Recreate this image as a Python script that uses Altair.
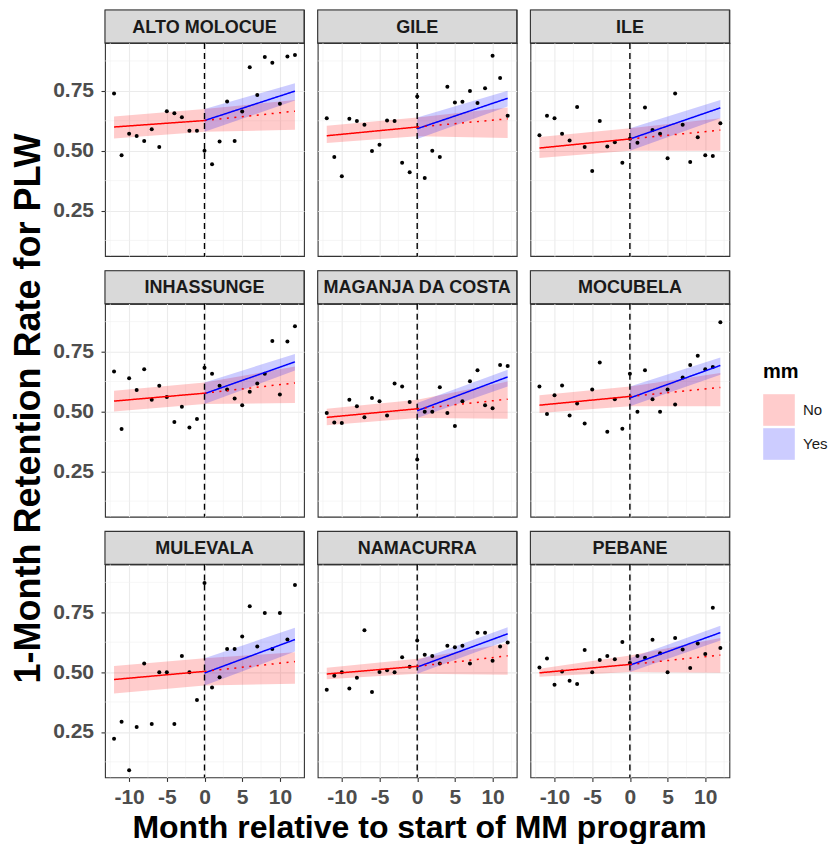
import altair as alt
import pandas as pd

SITES = ["ALTO MOLOCUE", "GILE", "ILE", "INHASSUNGE", "MAGANJA DA COSTA",
         "MOCUBELA", "MULEVALA", "NAMACURRA", "PEBANE"]
MONTHS = list(range(-12, 13))

ALTO_MOLOCUE = [0.739, 0.481, 0.571, 0.561, 0.540, 0.590, 0.515, 0.665, 0.656, 0.640, 0.583, 0.583, 0.500,
                0.443, 0.538, 0.706, 0.540, 0.664, 0.849, 0.733, 0.892, 0.867, 0.696, 0.894, 0.900]
GILE = [0.636, 0.474, 0.393, 0.633, 0.624, 0.608, 0.499, 0.525, 0.626, 0.624, 0.450, 0.410, 0.726,
        0.386, 0.500, 0.474, 0.767, 0.701, 0.704, 0.749, 0.699, 0.761, 0.897, 0.804, 0.646]
ILE = [0.565, 0.646, 0.636, 0.571, 0.543, 0.683, 0.515, 0.415, 0.624, 0.518, 0.535, 0.450, 0.550,
       0.533, 0.681, 0.586, 0.571, 0.468, 0.739, 0.608, 0.453, 0.556, 0.481, 0.478, 0.615]
INHASSUNGE = [0.667, 0.426, 0.639, 0.589, 0.676, 0.549, 0.607, 0.560, 0.456, 0.519, 0.433, 0.468, 0.682,
              0.657, 0.607, 0.592, 0.554, 0.526, 0.582, 0.617, 0.657, 0.794, 0.571, 0.792, 0.856]
MAGANJA_DA_COSTA = [0.493, 0.454, 0.451, 0.549, 0.521, 0.476, 0.556, 0.542, 0.483, 0.617, 0.604, 0.539, 0.299,
                    0.499, 0.499, 0.601, 0.493, 0.439, 0.542, 0.626, 0.672, 0.526, 0.513, 0.694, 0.690]
MOCUBELA = [0.604, 0.489, 0.567, 0.608, 0.483, 0.533, 0.449, 0.592, 0.704, 0.415, 0.551, 0.428, 0.657,
            0.499, 0.672, 0.551, 0.499, 0.592, 0.529, 0.642, 0.694, 0.732, 0.676, 0.685, 0.872]
MULEVALA = [0.221, 0.293, 0.090, 0.271, 0.536, 0.283, 0.499, 0.499, 0.283, 0.567, 0.499, 0.383, 0.872,
            0.436, 0.478, 0.597, 0.597, 0.649, 0.775, 0.607, 0.747, 0.597, 0.747, 0.636, 0.864]
NAMACURRA = [0.426, 0.485, 0.499, 0.431, 0.476, 0.675, 0.417, 0.500, 0.508, 0.499, 0.5625, 0.522, 0.632,
             0.572, 0.567, 0.536, 0.610, 0.604, 0.610, 0.536, 0.664, 0.664, 0.547, 0.607, 0.624]
PEBANE = [0.519, 0.557, 0.447, 0.503, 0.464, 0.450, 0.592, 0.499, 0.551, 0.567, 0.554, 0.626, 0.5375,
          0.567, 0.560, 0.635, 0.579, 0.499, 0.642, 0.594, 0.517, 0.619, 0.576, 0.769, 0.601]
SERIES = [ALTO_MOLOCUE, GILE, ILE, INHASSUNGE, MAGANJA_DA_COSTA, MOCUBELA, MULEVALA, NAMACURRA, PEBANE]

# fitted lines (site order as SITES)
PRE_START = [0.599, 0.5625, 0.511, 0.543, 0.475, 0.526, 0.469, 0.492, 0.497]
PRE_END = [0.626, 0.599, 0.549, 0.576, 0.511, 0.5625, 0.503, 0.524, 0.532]
POST_START = [0.626, 0.592, 0.549, 0.574, 0.503, 0.556, 0.496, 0.521, 0.529]
POST_END = [0.749, 0.719, 0.679, 0.707, 0.644, 0.692, 0.636, 0.660, 0.665]
CF_END = [0.665, 0.633, 0.586, 0.619, 0.551, 0.600, 0.544, 0.568, 0.571]

# confidence bands
RED_LO_START = [0.551, 0.532, 0.469, 0.500, 0.442, 0.493, 0.411, 0.470, 0.481]
RED_HI_START = [0.643, 0.604, 0.557, 0.586, 0.511, 0.567, 0.525, 0.518, 0.514]
RED_LO_MID = [0.579, 0.560, 0.500, 0.531, 0.472, 0.521, 0.444, 0.493, 0.500]
RED_HI_MID = [0.674, 0.639, 0.594, 0.621, 0.549, 0.604, 0.558, 0.556, 0.569]
RED_LO_END = [0.5875, 0.553, 0.500, 0.535, 0.469, 0.521, 0.451, 0.489, 0.497]
RED_HI_END = [0.712, 0.680, 0.636, 0.6875, 0.625, 0.660, 0.583, 0.621, 0.642]
BLUE_LO_MID = [0.579, 0.549, 0.500, 0.531, 0.472, 0.521, 0.444, 0.493, 0.500]
BLUE_HI_MID = [0.674, 0.639, 0.594, 0.621, 0.535, 0.604, 0.558, 0.549, 0.558]
BLUE_LO_END = [0.710, 0.685, 0.636, 0.671, 0.604, 0.653, 0.586, 0.632, 0.632]
BLUE_HI_END = [0.782, 0.751, 0.712, 0.740, 0.674, 0.725, 0.685, 0.6875, 0.694]

X_TICKS = [-10, -5, 0, 5, 10]
Y_TICKS = [0.25, 0.50, 0.75]
MINOR_X = [-12.5, -7.5, -2.5, 2.5, 7.5, 12.5]
MINOR_Y = [0.125, 0.375, 0.625, 0.875]
CUTOFF = [0]

XTITLE = "Month relative to start of MM program"
YTITLE = "1-Month Retention Rate for PLW"

# ---------------- tables ----------------
pts = []
for s, vals in zip(SITES, SERIES):
    for m, v in zip(MONTHS, vals):
        pts.append({"site": s, "x": m, "y": v})
pts = pd.DataFrame(pts)

lines = []
bands = []
for i, s in enumerate(SITES):
    lines += [
        {"site": s, "seg": "pre", "x": -12, "y": PRE_START[i]},
        {"site": s, "seg": "pre", "x": 0, "y": PRE_END[i]},
        {"site": s, "seg": "post", "x": 0, "y": POST_START[i]},
        {"site": s, "seg": "post", "x": 12, "y": POST_END[i]},
        {"site": s, "seg": "cf", "x": 0, "y": PRE_END[i]},
        {"site": s, "seg": "cf", "x": 12, "y": CF_END[i]},
    ]
    bands += [
        {"site": s, "mm": "No", "x": -12, "lo": RED_LO_START[i], "hi": RED_HI_START[i]},
        {"site": s, "mm": "No", "x": 0, "lo": RED_LO_MID[i], "hi": RED_HI_MID[i]},
        {"site": s, "mm": "No", "x": 12, "lo": RED_LO_END[i], "hi": RED_HI_END[i]},
        {"site": s, "mm": "Yes", "x": 0, "lo": BLUE_LO_MID[i], "hi": BLUE_HI_MID[i]},
        {"site": s, "mm": "Yes", "x": 12, "lo": BLUE_LO_END[i], "hi": BLUE_HI_END[i]},
    ]
lines = pd.DataFrame(lines)
bands = pd.DataFrame(bands)
minor_x = pd.DataFrame({"x": MINOR_X})
minor_y = pd.DataFrame({"y": MINOR_Y})
cut = pd.DataFrame({"x": CUTOFF})

W, H, SH = 199, 213, 33
FONT = "Liberation Sans"
XS = alt.Scale(domain=[-13.2, 13.2], nice=False, zero=False)
YS = alt.Scale(domain=[0.06, 0.95], nice=False, zero=False)


def axes(show_x, show_y):
    common = dict(title=None, domain=False, grid=True, gridColor="#ebebeb", gridWidth=1.1,
                  tickColor="#333333", tickWidth=1.1, tickSize=4,
                  labelFont=FONT, labelFontSize=21, labelFontWeight="bold", labelColor="#4d4d4d")
    ax = alt.Axis(values=X_TICKS, labels=show_x, ticks=show_x, labelExpr="datum.value + ''",
                  labelPadding=5, **common)
    ay = alt.Axis(values=Y_TICKS, labels=show_y, ticks=show_y, format=".2f",
                  labelPadding=7.5, **common)
    return ax, ay


def panel(name, show_x, show_y):
    ax, ay = axes(show_x, show_y)
    flt = alt.datum.site == name
    X = lambda f: alt.X(f"{f}:Q", scale=XS, axis=ax)
    Y = lambda f: alt.Y(f"{f}:Q", scale=YS, axis=ay)

    gx = alt.Chart(minor_x).mark_rule(color="#f0f0f0", strokeWidth=0.6).encode(x=X("x"))
    gy = alt.Chart(minor_y).mark_rule(color="#f0f0f0", strokeWidth=0.6).encode(y=Y("y"))
    band = alt.Chart(bands).transform_filter(flt).mark_area(opacity=0.2).encode(
        x=X("x"), y=alt.Y("lo:Q", scale=YS, axis=ay, stack=None), y2="hi:Q",
        fill=alt.Fill("mm:N", scale=alt.Scale(domain=["No", "Yes"], range=["#ff0000", "#0000ff"]),
                      legend=alt.Legend(title="mm", orient="none", legendX=658, legendY=352,
                                        titleFont=FONT, titleFontSize=20, titleFontWeight="bold",
                                        titleColor="black", labelFont=FONT, labelFontSize=15,
                                        labelColor="#1a1a1a", symbolType="square", symbolSize=1000,
                                        symbolStrokeWidth=0, symbolOpacity=0.2, labelOffset=8,
                                        rowPadding=2, titlePadding=12)),
        detail="mm:N")
    vline = alt.Chart(cut).mark_rule(color="black", strokeWidth=1.4, strokeDash=[6, 4]).encode(x=X("x"))
    dots = alt.Chart(pts).transform_filter(flt).mark_circle(size=16, color="black", opacity=1).encode(
        x=X("x"), y=Y("y"))
    ln = alt.Chart(lines).transform_filter(flt).mark_line(strokeWidth=1.5).encode(
        x=X("x"), y=Y("y"), detail="seg:N",
        stroke=alt.Stroke("seg:N", scale=alt.Scale(domain=["pre", "post", "cf"],
                                                   range=["#ff0000", "#0000ff", "#ff0000"]), legend=None),
        strokeDash=alt.StrokeDash("seg:N", scale=alt.Scale(domain=["pre", "post", "cf"],
                                                           range=[[1, 0], [1, 0], [2, 5.5]]), legend=None))
    plot = alt.layer(gx, gy, band, vline, dots, ln).properties(width=W, height=H)

    lab = pd.DataFrame({"label": [name]})
    box = alt.Chart(lab).mark_rect(fill="#d9d9d9", stroke="#333333", strokeWidth=1.1).encode(
        x=alt.value(0), x2=alt.value(W), y=alt.value(0), y2=alt.value(SH))
    txt = alt.Chart(lab).mark_text(font=FONT, fontSize=18, fontWeight="bold", color="#1a1a1a",
                                   align="center", baseline="middle").encode(
        x=alt.value(W / 2), y=alt.value(SH / 2 + 1), text="label:N")
    strip = alt.layer(box, txt).properties(width=W, height=SH)
    return alt.vconcat(strip, plot, spacing=0, bounds="flush")


rows = []
for r in range(3):
    cells = [panel(SITES[r * 3 + c], r == 2, c == 0) for c in range(3)]
    rows.append(alt.hconcat(*cells, spacing=9.7))

inner = alt.vconcat(*rows, spacing=10.7,
                    title=alt.TitleParams(YTITLE, orient="left", anchor="middle", font=FONT, fontSize=36,
                                          fontWeight="bold", color="black", offset=4))
chart = alt.vconcat(inner,
                    title=alt.TitleParams(XTITLE, orient="bottom", anchor="middle", font=FONT, fontSize=32,
                                          fontWeight="bold", color="black", offset=5)
                    ).properties(padding={"left": 3, "top": 0, "right": 0, "bottom": 0}
                    ).configure_view(stroke="#333333", strokeWidth=1.1)

chart.save("out.html", embed_options={"renderer": "svg", "actions": False})
